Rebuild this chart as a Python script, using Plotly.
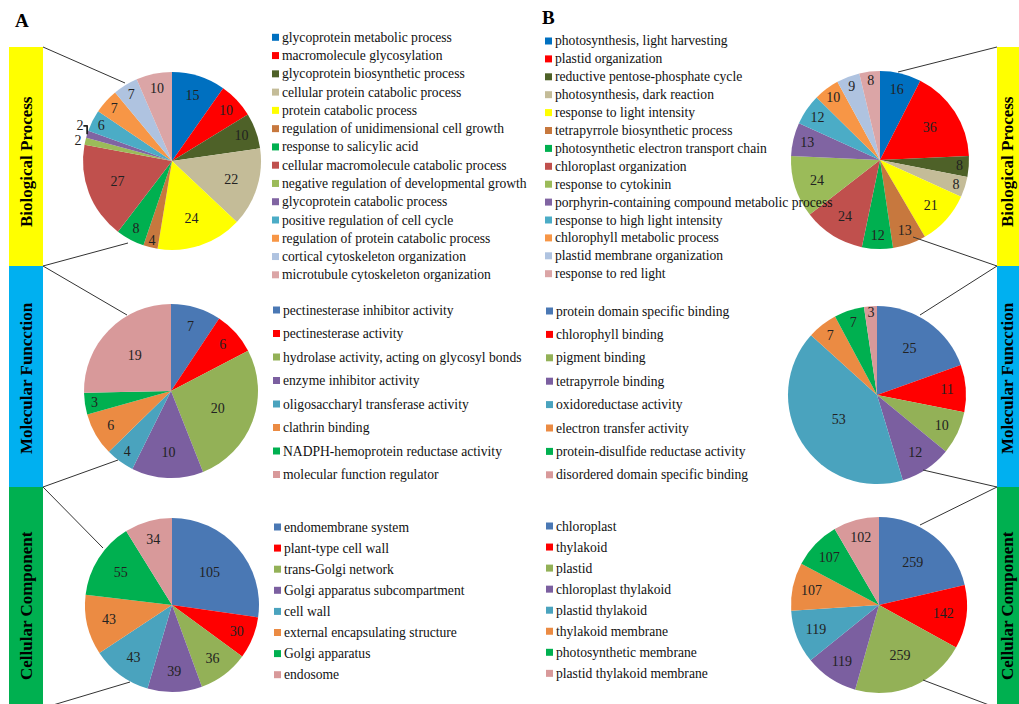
import plotly.graph_objects as go

W, H = 1019, 704

# ---------------- data ----------------
bp_a_labels = ["glycoprotein metabolic process", "macromolecule glycosylation",
               "glycoprotein biosynthetic process", "cellular protein catabolic process",
               "protein catabolic process", "regulation of unidimensional cell growth",
               "response to salicylic acid", "cellular macromolecule catabolic process",
               "negative regulation of developmental growth", "glycoprotein catabolic process",
               "positive regulation of cell cycle", "regulation of protein catabolic process",
               "cortical cytoskeleton organization", "microtubule cytoskeleton organization"]
bp_a_values = [15, 10, 10, 22, 24, 4, 8, 27, 2, 2, 6, 7, 7, 10]

bp_b_labels = ["photosynthesis, light harvesting", "plastid organization",
               "reductive pentose-phosphate cycle", "photosynthesis, dark reaction",
               "response to light intensity", "tetrapyrrole biosynthetic process",
               "photosynthetic electron transport chain", "chloroplast organization",
               "response to cytokinin", "porphyrin-containing compound metabolic process",
               "response to high light intensity", "chlorophyll metabolic process",
               "plastid membrane organization", "response to red light"]
bp_b_values = [16, 36, 8, 8, 21, 13, 12, 24, 24, 13, 12, 10, 9, 8]

mf_a_labels = ["pectinesterase inhibitor activity", "pectinesterase activity",
               "hydrolase activity, acting on glycosyl bonds", "enzyme inhibitor activity",
               "oligosaccharyl transferase activity", "clathrin binding",
               "NADPH-hemoprotein reductase activity", "molecular function regulator"]
mf_a_values = [7, 6, 20, 10, 4, 6, 3, 19]

mf_b_labels = ["protein domain specific binding", "chlorophyll binding", "pigment binding",
               "tetrapyrrole binding", "oxidoreductase activity", "electron transfer activity",
               "protein-disulfide reductase activity", "disordered domain specific binding"]
mf_b_values = [25, 11, 10, 12, 53, 7, 7, 3]

cc_a_labels = ["endomembrane system", "plant-type cell wall", "trans-Golgi network",
               "Golgi apparatus subcompartment", "cell wall", "external encapsulating structure",
               "Golgi apparatus", "endosome"]
cc_a_values = [105, 30, 36, 39, 43, 43, 55, 34]

cc_b_labels = ["chloroplast", "thylakoid", "plastid", "chloroplast thylakoid",
               "plastid thylakoid", "thylakoid membrane", "photosynthetic membrane",
               "plastid thylakoid membrane"]
cc_b_values = [259, 142, 259, 119, 119, 107, 107, 102]

bp_colors = ["#0070C0", "#FF0000", "#4E6128", "#C4BC98", "#FFFF00", "#C7783E", "#00B050",
             "#C0504D", "#9BBB59", "#8064A2", "#4BACC6", "#F79646", "#AFC3E0", "#DBA5A6"]
mf_colors = ["#4A78B4", "#FF0000", "#93B157", "#7B5FA0", "#4AA3BE", "#EB8B43", "#00B050", "#D8999A"]

band_names = ["Biological Process", "Molecular Funcction", "Cellular Component"]
band_colors = ["#FFFF00", "#00B0F0", "#00B050"]

SERIF = "Liberation Serif, Times New Roman, serif"


def X(p):
    return p / W


def Y(p):
    return 1 - p / H


fig = go.Figure()

# pie geometry (pixel centre, radius)
pies = [
    (bp_a_labels, bp_a_values, bp_colors, (172, 161, 89), True),
    (mf_a_labels, mf_a_values, mf_colors, (171, 391, 87), False),
    (cc_a_labels, cc_a_values, mf_colors, (172, 605, 87), False),
    (bp_b_labels, bp_b_values, bp_colors, (880, 160, 89), False),
    (mf_b_labels, mf_b_values, mf_colors, (877, 395, 89), False),
    (cc_b_labels, cc_b_values, mf_colors, (879, 605, 88), False),
]

for labels, values, cols, (cx, cy, r), small_out in pies:
    tpos = ["outside" if (small_out and v <= 2) else "inside" for v in values]
    fig.add_trace(go.Pie(
        labels=labels, values=values, sort=False, direction="clockwise", rotation=0,
        marker=dict(colors=cols, line=dict(width=0)),
        textinfo="value", textposition=tpos, insidetextorientation="horizontal",
        textfont=dict(family=SERIF, size=14, color="#222222"),
        outsidetextfont=dict(family=SERIF, size=14, color="#222222"),
        showlegend=False, hoverinfo="label+value",
        domain=dict(x=[X(cx - r), X(cx + r)], y=[Y(cy + r), Y(cy - r)]),
    ))

shapes = []
annotations = []

# bands on both sides
band_y = [(47, 266), (266, 487), (487, 712)]
label_y = [162, 378, 606]
for (y0, y1), col, name, ly in zip(band_y, band_colors, band_names, label_y):
    shapes.append(dict(type="rect", xref="paper", yref="paper", x0=X(9), x1=X(43),
                       y0=Y(y1), y1=Y(y0), fillcolor=col, line=dict(width=0), layer="below"))
    shapes.append(dict(type="rect", xref="paper", yref="paper", x0=X(997), x1=X(1030),
                       y0=Y(y1), y1=Y(y0), fillcolor=col, line=dict(width=0), layer="below"))
    for lx in (26, 1007):
        annotations.append(dict(x=X(lx), y=Y(ly), xref="paper", yref="paper", text=f"<b>{name}</b>",
                                textangle=-90, showarrow=False, xanchor="center", yanchor="middle",
                                font=dict(family=SERIF, size=17, color="#000000")))

# connector lines (band corner -> pie edge)
conn = [
    ((43, 47), (125, 83)), ((43, 266), (128, 243)),
    ((43, 266), (127, 315)), ((43, 487), (118, 460)),
    ((43, 487), (103, 548)), ((43, 708), (130, 682)),
    ((997, 47), (898, 72)), ((997, 266), (913, 237)),
    ((997, 266), (920, 315)), ((997, 487), (923, 470)),
    ((997, 487), (920, 525)), ((997, 708), (923, 680)),
]
for (x0, y0), (x1, y1) in conn:
    shapes.append(dict(type="line", xref="paper", yref="paper", x0=X(x0), y0=Y(y0),
                       x1=X(x1), y1=Y(y1), line=dict(color="#333333", width=1)))

# legends
legends = [
    (bp_a_labels, bp_colors, 272, 37.3, 18.27),
    (bp_b_labels, bp_colors, 545, 41.0, 17.9),
    (mf_a_labels, mf_colors, 273, 310.0, 23.5),
    (mf_b_labels, mf_colors, 546, 311.0, 23.4),
    (cc_a_labels, mf_colors, 274, 527.0, 21.1),
    (cc_b_labels, mf_colors, 546, 526.0, 21.05),
]
for labels, cols, sx, y0, dy in legends:
    for i, (lab, c) in enumerate(zip(labels, cols)):
        yc = y0 + i * dy
        shapes.append(dict(type="rect", xref="paper", yref="paper", x0=X(sx), x1=X(sx + 7),
                           y0=Y(yc + 3.5), y1=Y(yc - 3.5), fillcolor=c, line=dict(width=0)))
        annotations.append(dict(x=X(sx + 7.5), y=Y(yc), xref="paper", yref="paper", text=lab,
                                xanchor="left", yanchor="middle", showarrow=False,
                                font=dict(family=SERIF, size=13.6, color="#111111")))

# panel letters
annotations.append(dict(x=X(22), y=Y(20), xref="paper", yref="paper", text="<b>A</b>",
                        showarrow=False, xanchor="center", yanchor="middle",
                        font=dict(family=SERIF, size=19, color="#000")))
annotations.append(dict(x=X(548), y=Y(18), xref="paper", yref="paper", text="<b>B</b>",
                        showarrow=False, xanchor="center", yanchor="middle",
                        font=dict(family=SERIF, size=19, color="#000")))

fig.update_layout(
    width=W, height=H, margin=dict(l=0, r=0, t=0, b=0),
    paper_bgcolor="white", plot_bgcolor="white",
    shapes=shapes, annotations=annotations,
    uniformtext=dict(minsize=13, mode="show"),
)

fig.write_html("out.html")
